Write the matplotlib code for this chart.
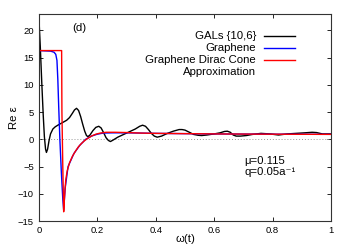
import matplotlib
matplotlib.use("Agg")
import matplotlib.pyplot as plt
from matplotlib.lines import Line2D
import numpy as np

plt.rcParams['font.family'] = ['Liberation Sans', 'DejaVu Sans']
plt.rcParams['font.size'] = 8.2

# GALs {10,6}
gal_w = [0.000, 0.005, 0.010, 0.015, 0.019, 0.023, 0.026, 0.030, 0.035, 0.040,
         0.048, 0.056, 0.065, 0.075, 0.085, 0.095, 0.105, 0.115, 0.122, 0.129,
         0.136, 0.143, 0.150, 0.157, 0.163, 0.168, 0.175, 0.185, 0.195, 0.205,
         0.213, 0.222, 0.230, 0.238, 0.245, 0.255, 0.270, 0.290, 0.310, 0.330,
         0.345, 0.355, 0.365, 0.375, 0.385, 0.395, 0.405, 0.420, 0.440, 0.460,
         0.480, 0.490, 0.500, 0.515, 0.530, 0.545, 0.557, 0.575, 0.600, 0.620,
         0.635, 0.645, 0.655, 0.665, 0.675, 0.690, 0.710, 0.730, 0.760, 0.790,
         0.820, 0.850, 0.880, 0.910, 0.935, 0.950, 0.970, 1.000]
gal_re = [22.6, 17.0, 10.5, 4.5, 0.5, -1.8, -2.4, -1.8, -0.2, 1.0,
          1.9, 2.3, 2.6, 2.9, 3.2, 3.5, 4.0, 4.8, 5.4, 5.7,
          5.3, 4.2, 2.8, 1.5, 0.7, 0.5, 0.8, 1.6, 2.2, 2.4,
          2.1, 1.2, 0.3, -0.2, -0.4, -0.1, 0.4, 0.9, 1.4, 1.9,
          2.4, 2.6, 2.4, 1.8, 1.1, 0.6, 0.4, 0.6, 1.1, 1.5,
          1.8, 1.8, 1.7, 1.3, 0.9, 0.75, 0.7, 0.8, 1.0, 1.2,
          1.45, 1.5, 1.3, 0.8, 0.6, 0.6, 0.7, 0.9, 1.1, 1.0,
          0.8, 1.0, 1.1, 1.2, 1.3, 1.25, 1.0, 1.0]

# Graphene
gr_w = [0.000, 0.040, 0.052, 0.058, 0.062, 0.065, 0.068, 0.072, 0.077, 0.082,
        0.085, 0.090, 0.100, 0.120, 0.140, 0.160, 0.180, 0.200, 0.220, 0.250,
        0.300, 0.350, 0.400, 0.500, 0.600, 0.700, 0.800, 0.900, 1.000]
gr_re = [16.3, 16.2, 16.0, 15.6, 14.5, 11.0, 6.0, 0.0, -6.0, -11.0,
         -13.0, -9.0, -5.0, -2.6, -1.1, 0.0, 0.6, 0.95, 1.15, 1.2,
         1.2, 1.15, 1.1, 1.05, 1.0, 0.97, 0.95, 0.93, 0.92]

# Graphene Dirac cone approximation
dc_w = [0.000, 0.078, 0.079, 0.082, 0.085, 0.088, 0.092, 0.097, 0.105, 0.115,
        0.125, 0.135, 0.145, 0.155, 0.165, 0.180, 0.195, 0.210, 0.230, 0.260,
        0.300, 0.350, 0.400, 0.500, 0.600, 0.700, 0.800, 0.900, 1.000]
dc_re = [16.3, 16.3, 5.0, -5.0, -13.3, -10.5, -7.5, -5.8, -4.3, -3.1,
         -2.2, -1.4, -0.8, -0.3, 0.1, 0.6, 0.95, 1.15, 1.3, 1.3,
         1.25, 1.15, 1.1, 1.05, 1.0, 0.97, 0.95, 0.93, 0.92]

xticks = [0, 0.2, 0.4, 0.6, 0.8, 1]
xticklabels = ['0', '0.2', '0.4', '0.6', '0.8', '1']
yticks = [-15, -10, -5, 0, 5, 10, 15, 20]

fig = plt.figure(figsize=(3.53, 2.47), dpi=100)
fig.subplots_adjust(left=0.110, right=0.938, bottom=0.105, top=0.943)
ax = fig.add_subplot(111)

ax.axhline(0, color='#999999', lw=0.7, ls=(0, (1, 2)))
ax.plot(gal_w, gal_re, color='black', lw=1.0)
ax.plot(gr_w, gr_re, color='#0000ff', lw=1.0)
ax.plot(dc_w, dc_re, color='#ff0000', lw=1.0)

ax.set_xlim(0, 1)
ax.set_ylim(-15, 23)
ax.set_xticks(xticks)
ax.set_xticklabels(xticklabels)
ax.set_yticks(yticks)
ax.tick_params(direction='in', length=3, width=0.6, top=True, right=True,
               pad=3.5, labelsize=6.8)
for s in ax.spines.values():
    s.set_linewidth(0.8)
    s.set_color('#333333')

ax.set_xlabel('ω(t)')
ax.set_ylabel('Re ε')
ax.xaxis.set_label_coords(0.5, -0.062)
ax.yaxis.set_label_coords(-0.068, 0.5)

# legend, gnuplot style: text right-aligned, sample to the right
leg_rows = [('GALs {10,6}', 'black', 0.894),
            ('Graphene', '#0000ff', 0.835),
            ('Graphene Dirac Cone', '#ff0000', 0.778),
            ('Approximation', None, 0.722)]
for label, col, yy in leg_rows:
    ax.text(0.743, yy, label, transform=ax.transAxes, ha='right', va='center')
    if col is not None:
        ax.add_line(Line2D([0.771, 0.877], [yy, yy], transform=ax.transAxes,
                           color=col, lw=1.0))

ax.text(0.14, 0.932, '(d)', transform=ax.transAxes, ha='center', va='center')
ax.text(0.702, 0.290, 'μ=0.115', transform=ax.transAxes, ha='left', va='center')
ax.text(0.702, 0.236, 'q=0.05a⁻¹', transform=ax.transAxes, ha='left',
        va='center', family=['Liberation Sans', 'DejaVu Sans'])

fig.savefig('out.png', dpi=100)
